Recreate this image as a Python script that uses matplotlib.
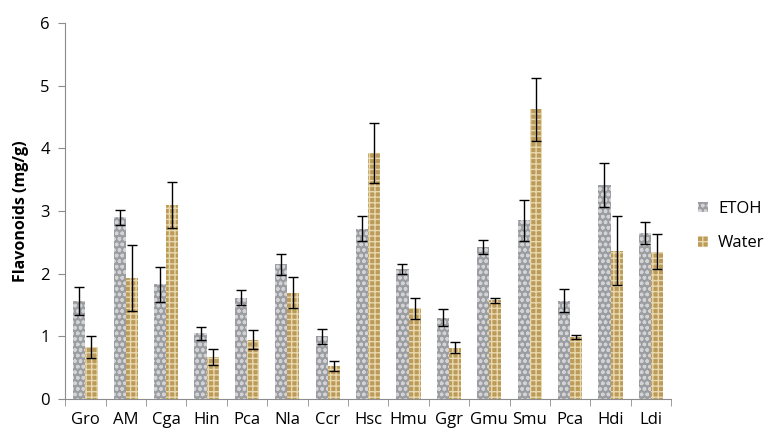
import numpy as np
import matplotlib
matplotlib.use("Agg")
import matplotlib.pyplot as plt

plt.rcParams["font.family"] = ["Open Sans", "DejaVu Sans"]
plt.rcParams["hatch.linewidth"] = 1.0

species = ["Gro", "AM", "Cga", "Hin", "Pca", "Nla", "Ccr", "Hsc",
           "Hmu", "Ggr", "Gmu", "Smu", "Pca", "Hdi", "Ldi"]
etoh = [1.57, 2.90, 1.83, 1.05, 1.62, 2.15, 1.00, 2.72,
        2.08, 1.30, 2.43, 2.85, 1.57, 3.42, 2.65]
etoh_err = [0.22, 0.12, 0.28, 0.10, 0.12, 0.17, 0.12, 0.20,
            0.08, 0.14, 0.11, 0.32, 0.18, 0.35, 0.18]
water = [0.83, 1.93, 3.10, 0.67, 0.95, 1.70, 0.53, 3.93,
         1.45, 0.82, 1.58, 4.62, 0.99, 2.37, 2.35]
water_err = [0.17, 0.53, 0.37, 0.13, 0.15, 0.25, 0.08, 0.48,
             0.17, 0.09, 0.04, 0.50, 0.03, 0.55, 0.28]

fig = plt.figure(figsize=(7.67, 4.32), dpi=100)
ax = fig.add_axes([0.085, 0.076, 0.79, 0.871])

x = np.arange(len(species))
w = 0.3
err_kw = dict(ecolor="black", elinewidth=1, capsize=3.5, capthick=1)

ax.bar(x - w / 2, etoh, w, yerr=etoh_err, color="#9c9da0", edgecolor="#d2d3d6",
       hatch="ooo", linewidth=0, error_kw=err_kw, label="ETOH")
ax.bar(x + w / 2, water, w, yerr=water_err, color="#bb9a5a", edgecolor="#e8d8ae",
       hatch="+++", linewidth=0, error_kw=err_kw, label="Water")

ax.set_xlim(-0.5, len(species) - 0.5)
ax.set_ylim(0, 6)
ax.set_yticks(range(7))
ax.set_xticks(x)
ax.set_xticklabels(species)
ax.set_xticks(np.arange(-0.5, len(species)), minor=True)
ax.tick_params(axis="x", which="major", length=0, labelsize=12, pad=9)
ax.tick_params(axis="x", which="minor", length=5, color="#8c8c8c")
ax.tick_params(axis="y", length=5, color="#8c8c8c", labelsize=12, pad=6)
ax.set_ylabel("Flavonoids (mg/g)", fontsize=11.5, fontweight="bold", labelpad=8)

ax.spines[["top", "right"]].set_visible(False)
ax.spines["left"].set_color("#8c8c8c")
ax.spines["bottom"].set_color("#8c8c8c")

ax.legend(loc="center left", bbox_to_anchor=(1.02, 0.46), frameon=False,
          fontsize=12, handlelength=0.6, handleheight=0.6, labelspacing=1.1,
          handletextpad=0.6)

plt.savefig("out.png", dpi=100)
plt.close()
